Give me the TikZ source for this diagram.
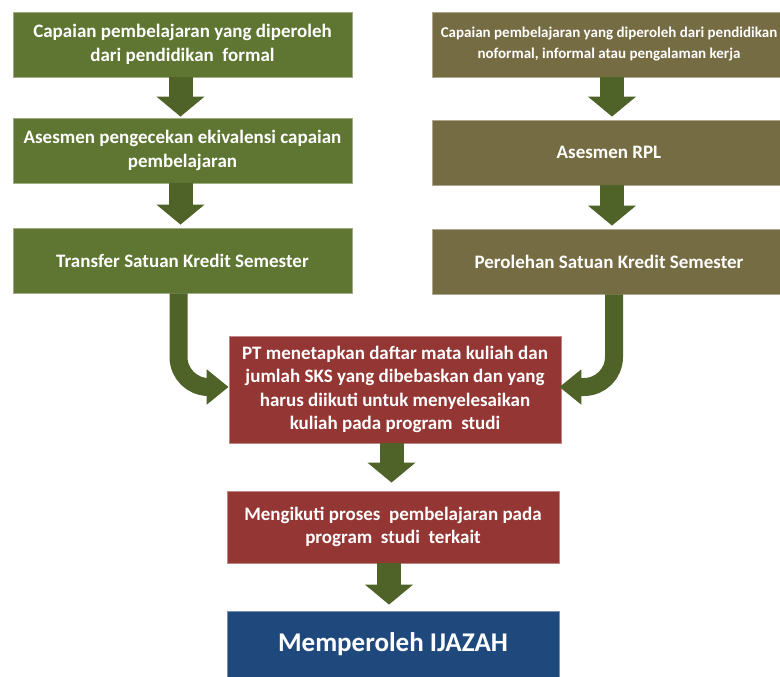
\documentclass[tikz,border=0pt]{standalone}
\usepackage{fontspec}
\setmainfont{Carlito}
\usetikzlibrary{arrows.meta}
\definecolor{lgreen}{HTML}{5E7631}
\definecolor{rolive}{HTML}{766C43}
\definecolor{dred}{HTML}{943634}
\definecolor{dblue}{HTML}{1F497D}
\definecolor{arrowgreen}{HTML}{4F6228}
\tikzset{
  box/.style={rectangle, inner sep=0pt, align=center, text=white,
    font=\bfseries\fontsize{19}{23.5}\selectfont, line width=0.8pt},
  gbox/.style={box, fill=lgreen, draw=lgreen!60!white, minimum width=339pt, minimum height=65pt},
  obox/.style={box, fill=rolive, draw=rolive!60!white, minimum width=354pt, minimum height=65pt},
  rbox/.style={box, fill=dred, draw=dred!60!white, minimum width=332pt},
  bbox/.style={box, fill=dblue, draw=dblue!60!white, minimum width=332pt, minimum height=67pt,
    font=\bfseries\fontsize{27}{32}\selectfont},
  blockarrow/.style={draw=arrowgreen, line width=24pt,
    -{Triangle[width=47pt,length=20pt,fill=arrowgreen]}},
  curvearrow/.style={draw=arrowgreen, line width=18pt, rounded corners=30pt,
    -{Triangle[width=34pt,length=22pt,fill=arrowgreen]}}
}
\begin{document}
\begin{tikzpicture}[x=1pt,y=-1pt]
\useasboundingbox (0,0) rectangle (780,677);
\fill[white] (0,0) rectangle (780,677);
% left column
\node[gbox] (l1) at (182.5,44.5) {Capaian pembelajaran yang diperoleh\\dari pendidikan\ \ formal};
\node[gbox] (l2) at (182.5,150.5) {Asesmen pengecekan ekivalensi capaian\\pembelajaran};
\node[gbox] (l3) at (182.5,260.5) {Transfer Satuan Kredit Semester};
% right column
\node[obox, font=\bfseries\fontsize{15}{21}\selectfont] (r1) at (609,44.5) {Capaian pembelajaran yang diperoleh dari pendidikan\\noformal, informal atau pengalaman kerja};
\node[obox] (r2) at (609,152.5) {Asesmen RPL};
\node[obox] (r3) at (609,261.5) {Perolehan Satuan Kredit Semester};
% middle
\node[rbox, minimum height=107pt] (m1) at (395,389.5) {PT menetapkan daftar mata kuliah dan\\jumlah SKS yang dibebaskan dan yang\\harus diikuti untuk menyelesaikan\\kuliah pada program\ \ studi};
\node[rbox, minimum height=72pt] (m2) at (393,527) {Mengikuti proses\ \ pembelajaran pada\\program\ \ studi\ \ terkait};
\node[bbox] (m3) at (393,644.5) {Memperoleh IJAZAH};
% arrows
\draw[blockarrow, shorten >=1pt] ([xshift=-2pt]l1.south) -- ([xshift=-2pt]l2.north);
\draw[blockarrow, shorten >=3pt] ([xshift=-2pt]l2.south) -- ([xshift=-2pt]l3.north);
\draw[blockarrow, shorten >=3pt] ([xshift=3pt]r1.south) -- ([xshift=3pt]r2.north);
\draw[blockarrow, shorten >=3pt] ([xshift=3pt]r2.south) -- ([xshift=3pt]r3.north);
\draw[blockarrow, shorten >=8pt] ([xshift=-3.5pt]m1.south) -- ([xshift=-3.5pt]m1.south |- m2.north);
\draw[blockarrow, shorten >=6pt] ([xshift=-4pt]m2.south) -- ([xshift=-4pt]m3.north);
\draw[curvearrow] ([xshift=-4pt]l3.south) |- ([yshift=2.5pt]m1.west);
\draw[curvearrow] ([xshift=5pt]r3.south) |- ([yshift=2.5pt,xshift=-2pt]m1.east);
\end{tikzpicture}
\end{document}
